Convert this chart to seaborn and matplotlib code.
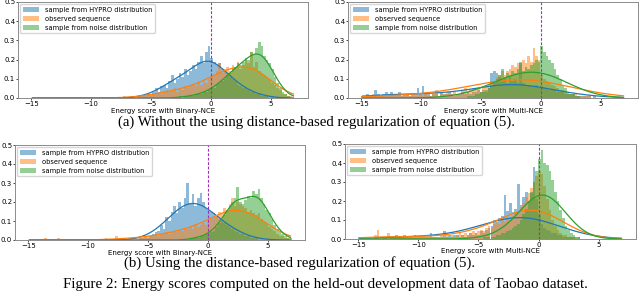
import numpy as np
import matplotlib
matplotlib.use('Agg')
import matplotlib.pyplot as plt
import seaborn as sns

# 100 shared bins over [-15, 7]; bar heights below are in units of 0.01
bin_edges = np.linspace(-15, 7, 101)
bin_centers = (bin_edges[:-1] + bin_edges[1:]) / 2

series_labels = ['sample from HYPRO distribution', 'observed sequence',
                 'sample from noise distribution']
xlabels = ['Energy score with Binary-NCE', 'Energy score with Multi-NCE',
           'Energy score with Binary-NCE', 'Energy score with Multi-NCE']

# (a) Binary-NCE, no regularization
tl_hypro = [0]*30 + [0,0,0,0,0,0,0,0,1,0,
            0,1,1,1,2,2,3,5,3,6,
            7,5,9,12,8,10,13,11,15,12,
            14,17,15,19,22,18,24,27,21,19,
            17,18,15,14,13,11,10,9,7,6,
            5,5,4,3,3,2,2,1,1,1,
            0,1,0,0,0,0,0,0,0,0]
tl_obs = [0]*30 + [0,0,0,0,0,1,0,0,1,0,
          1,0,1,1,2,1,2,2,3,2,
          3,4,3,4,5,3,5,4,6,5,
          6,7,6,8,7,9,8,10,11,12,
          14,18,13,15,16,14,17,16,19,15,
          17,20,18,24,16,19,14,13,12,11,
          10,8,7,5,4,2,2,1,1,0]
tl_noise = [0]*50 + [0,0,0,0,0,0,1,0,1,1,
            1,1,2,2,2,3,3,4,5,5,
            7,8,9,10,12,13,15,16,18,17,
            19,21,20,24,23,26,29,27,22,20,
            18,15,11,8,5,3,2,1,0,0]

# (a) Multi-NCE, no regularization
tr_hypro = [1,1,2,1,1,4,2,1,2,3,
            2,3,1,2,3,1,2,2,1,2,
            2,5,2,6,2,2,1,2,2,1,
            3,2,2,3,2,1,2,2,3,2,
            3,2,3,3,4,3,4,3,5,13,
            14,13,11,9,10,8,11,9,10,8,
            18,8,7,7,6,6,7,5,6,5,
            5,4,4,4,3,3,3,2,2,2,
            2,1,1,1,1,1,1,0,1,0] + [0]*10
tr_obs = [1,1,1,1,2,1,1,1,1,1,
          1,1,2,1,1,1,1,2,1,1,
          1,1,2,1,2,1,1,2,4,1,
          2,2,3,2,2,3,2,2,4,5,
          3,4,5,4,5,3,5,6,7,9,
          9,11,12,14,12,14,15,17,16,18,
          17,20,18,22,19,26,22,20,12,10,
          9,8,7,6,5,4,4,3,2,2,
          2,2,1,1,1,1,1,0,0,0] + [0]*10
tr_noise = [0]*40 + [1,1,1,2,2,3,3,4,5,6,
            8,10,12,15,11,13,12,14,13,15,
            19,14,16,15,17,18,20,19,27,24,
            22,20,18,15,12,10,7,5,3,2,
            2,1,1,0,0,0,0,0,0,0] + [0]*10

# (b) Binary-NCE, distance-based regularization
bl_hypro = [0]*40 + [0,0,1,1,2,1,2,3,4,5,
            8,6,12,10,15,18,14,20,17,22,
            30,19,24,18,22,25,20,17,16,15,
            14,12,11,10,9,8,7,6,5,4,
            3,3,2,2,1,1,1,0,0,0] + [0]*10
bl_obs = [0,0,0,0,0,0,1,0,0,0,
          0,1,0,0,0,0,0,0,0,0,
          0,0,0,0,0,0,0,0,0,1,
          0,0,0,2,0,1,1,0,1,1,
          1,1,1,2,1,2,2,2,3,2,
          3,3,4,3,4,5,4,5,5,6,
          6,7,6,8,7,8,9,8,10,11,
          12,13,15,14,17,16,19,22,18,20,
          19,18,17,15,16,14,13,14,11,10,
          9,7,6,5,3,2,2,1,1,0]
bl_noise = [0]*60 + [0,1,1,1,1,2,2,3,3,4,
            5,7,9,11,13,16,18,20,22,28,
            20,19,21,23,22,26,24,27,22,19,
            16,14,11,8,6,4,3,2,1,1]

# (b) Multi-NCE, distance-based regularization
br_hypro = [1,1,0,1,1,0,1,1,0,1,
            1,0,1,1,2,1,1,2,1,1,
            1,2,1,1,1,1,1,3,1,1,
            1,1,4,1,2,1,2,2,1,2,
            1,2,3,2,3,2,4,3,5,6,
            7,10,9,11,12,23,15,19,14,16,
            29,18,22,25,20,24,38,21,13,8,
            6,5,4,3,3,2,2,1,1,1,
            1,1,0,1,0,0,0,0,0,0] + [0]*10
br_obs = [0,1,1,1,1,1,2,5,1,1,
          1,3,1,1,1,1,1,1,1,1,
          1,1,1,1,1,1,2,1,1,1,
          1,2,1,3,1,2,1,2,3,2,
          3,2,3,4,3,4,5,4,6,7,
          6,8,9,8,10,9,11,10,12,14,
          14,17,19,22,24,27,30,33,36,34,
          28,21,15,10,7,5,3,2,2,1,
          1,1,1,0,0,0,0,0,0,0] + [0]*10
br_noise = [0]*40 + [0,0,0,0,0,0,0,1,1,1,
            1,1,2,2,3,3,4,5,6,7,
            8,10,13,16,20,25,30,36,42,47,
            40,39,36,31,25,20,15,11,7,5,
            3,2,1,1,0,0,0,0,0,0] + [0]*10

panels = [(tl_hypro, tl_obs, tl_noise), (tr_hypro, tr_obs, tr_noise),
          (bl_hypro, bl_obs, bl_noise), (br_hypro, br_obs, br_noise)]

# layout in pixels (left, top, right, bottom)
rects_px = [(18, 2, 308, 98), (348, 2, 638, 98), (15, 145, 305, 240), (345, 144, 636, 239)]
bw = [(0.85, 1.0, 0.8), (1.3, 2.2, 2.4), (1.2, 1.0, 0.7), (1.8, 1.3, 2.2)]
colors = sns.color_palette('tab10', 3)

W, H = 640, 293
fig = plt.figure(figsize=(W / 100, H / 100), dpi=100)

for k, (series, (l, t, r, b)) in enumerate(zip(panels, rects_px)):
    ax = fig.add_axes([l / W, 1 - b / H, (r - l) / W, (b - t) / H])
    for vals, lab, c, bwk in zip(series, series_labels, colors, bw[k]):
        assert len(vals) == 100
        sns.histplot(x=bin_centers, weights=np.array(vals) / 100, bins=list(bin_edges),
                     stat='count', kde=True, kde_kws={'bw_adjust': bwk},
                     color=c, alpha=0.5, linewidth=0, label=lab, ax=ax,
                     line_kws={'linewidth': 0.9})
    ax.axvline(0, color='#a030b8', ls='--', lw=0.8, dashes=(2.5, 1.5))
    ax.set_ylim(0, 0.5)
    ax.set_xticks([-15, -10, -5, 0, 5])
    ax.set_yticks([0, 0.1, 0.2, 0.3, 0.4, 0.5])
    ax.set_ylabel('')
    ax.set_xlabel(xlabels[k], fontsize=5.0)
    ax.xaxis.set_label_coords(0.5, -9.5 / (b - t))
    ax.tick_params(labelsize=5.0, length=1.5, width=0.5, pad=0.5)
    for s in ax.spines.values():
        s.set_color('0.55')
        s.set_linewidth(0.7)
    ax.legend(loc='upper left', fontsize=4.8, handlelength=2.5, borderaxespad=0.3,
              borderpad=0.4, labelspacing=0.45, frameon=True)

serif = ['Liberation Serif', 'DejaVu Serif']
fig.text(316 / W, 1 - 126 / H, '(a) Without the using distance-based regularization of equation (5).',
         ha='center', va='baseline', fontsize=10.6, family=serif)
fig.text(300 / W, 1 - 267 / H, '(b) Using the distance-based regularization of equation (5).',
         ha='center', va='baseline', fontsize=10.7, family=serif)
fig.text(325 / W, 1 - 288 / H, 'Figure 2: Energy scores computed on the held-out development data of Taobao dataset.',
         ha='center', va='baseline', fontsize=10.8, family=serif)

fig.savefig('out.png', dpi=100)
